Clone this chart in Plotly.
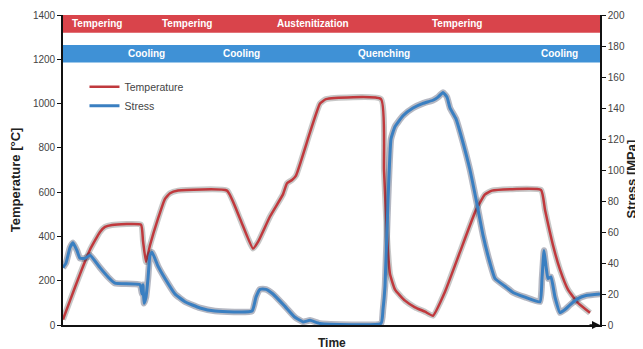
import plotly.graph_objects as go

# Time in arbitrary units (no ticks on the time axis)
temp_time = [0, 7, 17, 27, 37, 42, 49, 78, 80, 83, 87, 95, 102, 107, 115, 164, 177, 190, 195, 207, 220, 224, 229, 233, 247, 257, 263, 318, 321, 324, 327, 332, 342, 352, 362, 370, 382, 397, 413, 422, 429, 478, 482, 490, 497, 505, 515, 527]
temp_vals = [25, 110, 230, 340, 420, 443, 452, 453, 380, 285, 360, 480, 570, 595, 607, 607, 480, 345, 375, 490, 590, 640, 655, 675, 870, 1000, 1020, 1020, 700, 400, 230, 160, 110, 80, 60, 42, 150, 330, 520, 590, 607, 610, 520, 360, 250, 160, 100, 55]

stress_time = [0, 3, 7, 10, 14, 17, 22, 27, 37, 45, 52, 77, 79, 80, 81, 83, 85, 87, 89, 95, 102, 112, 122, 137, 152, 189, 193, 197, 203, 210, 222, 232, 240, 247, 257, 318, 320, 322, 325, 328, 332, 340, 350, 360, 370, 375, 380, 384, 387, 393, 399, 407, 414, 420, 427, 432, 442, 450, 462, 477, 479, 481, 483, 485, 488, 492, 497, 502, 507, 515, 523, 537]
stress_vals = [37, 40, 50, 53, 48, 43, 43, 45, 37, 31, 27, 26, 20, 26, 14, 18, 30, 45, 47, 38, 30, 20, 15, 11, 9, 9, 18, 23, 23, 20, 12, 5, 2, 3, 1, 1, 10, 25, 80, 120, 128, 135, 140, 143, 145, 147, 150, 147, 140, 133, 120, 100, 78, 58, 40, 30, 25, 21, 18, 15, 30, 48, 38, 30, 31, 18, 8, 10, 13, 17, 19, 20]

red_band_labels = ["Tempering", "Tempering", "Austenitization", "Tempering"]
red_band_pos = [34, 124, 250, 394]
blue_band_labels = ["Cooling", "Cooling", "Quenching", "Cooling"]
blue_band_pos = [83, 178, 321, 496]

RED = "#c0393d"
BLUE = "#3a7fc1"
RED_BAND = "#d9444b"
BLUE_BAND = "#3f91d6"
FONT = "Liberation Sans, Arial, sans-serif"

fig = go.Figure()

# shadow traces
fig.add_trace(go.Scatter(x=temp_time, y=temp_vals, mode="lines",
                         line=dict(color="rgba(70,70,70,0.30)", width=6, shape="spline", smoothing=0.4),
                         showlegend=False, hoverinfo="skip"))
fig.add_trace(go.Scatter(x=stress_time, y=stress_vals, mode="lines", yaxis="y2",
                         line=dict(color="rgba(40,50,80,0.35)", width=6.5, shape="spline", smoothing=0.4),
                         showlegend=False, hoverinfo="skip"))

fig.add_trace(go.Scatter(x=temp_time, y=temp_vals, mode="lines", name="Temperature",
                         line=dict(color=RED, width=2.5, shape="spline", smoothing=0.4)))
fig.add_trace(go.Scatter(x=stress_time, y=stress_vals, mode="lines", name="Stress", yaxis="y2",
                         line=dict(color=BLUE, width=3, shape="spline", smoothing=0.4)))

shapes = [
    dict(type="rect", xref="paper", yref="y", x0=0, x1=1, y0=1320, y1=1400,
         fillcolor=RED_BAND, line=dict(width=0), layer="below"),
    dict(type="rect", xref="paper", yref="y", x0=0, x1=1, y0=1185, y1=1265,
         fillcolor=BLUE_BAND, line=dict(width=0), layer="below"),
]

annotations = []
for lab, pos in zip(red_band_labels, red_band_pos):
    annotations.append(dict(x=pos, y=1360, xref="x", yref="y", text=lab, showarrow=False,
                            font=dict(color="white", size=10, family=FONT, weight="bold")))
for lab, pos in zip(blue_band_labels, blue_band_pos):
    annotations.append(dict(x=pos, y=1225, xref="x", yref="y", text=lab, showarrow=False,
                            font=dict(color="white", size=10, family=FONT, weight="bold")))

annotations += [
    dict(x=-0.087, y=0.468, xref="paper", yref="paper", text="Temperature [°C]", textangle=-90,
         xanchor="center", yanchor="middle",
         showarrow=False, font=dict(size=13, family=FONT, color="#222", weight="bold")),
    dict(x=1.058, y=0.47, xref="paper", yref="paper", text="Stress [MPa]", textangle=-90,
         xanchor="center", yanchor="middle",
         showarrow=False, font=dict(size=13, family=FONT, color="#222", weight="bold")),
    dict(x=0.5, y=-0.058, xref="paper", yref="paper", text="Time", xanchor="center", yanchor="middle",
         showarrow=False, font=dict(size=12, family=FONT, color="#222", weight="bold")),
    dict(x=1.0, y=0, xref="paper", yref="paper", ax=-12, ay=0, axref="pixel", ayref="pixel",
         text="", showarrow=True, arrowhead=2, arrowsize=1, arrowwidth=1.6, arrowcolor="#111"),
]

fig.update_layout(
    width=635, height=341,
    margin=dict(l=55, r=43, t=7, b=24, autoexpand=False),
    paper_bgcolor="white", plot_bgcolor="white",
    font=dict(family=FONT, size=10, color="#444"),
    shapes=shapes, annotations=annotations,
    xaxis=dict(range=[0, 537], showticklabels=False, ticks="", showgrid=False, zeroline=False,
               showline=True, linecolor="#111", linewidth=1.6),
    yaxis=dict(range=[0, 1400], dtick=200, ticks="outside", ticklen=4, tickcolor="#111",
               showgrid=False, zeroline=False, showline=True, linecolor="#111", linewidth=1.6,
               tickfont=dict(size=10, color="#444")),
    yaxis2=dict(range=[0, 200], dtick=20, overlaying="y", side="right", ticks="outside",
                ticklen=4, tickcolor="#111", showgrid=False, zeroline=False, showline=True,
                linecolor="#111", linewidth=1.6, tickfont=dict(size=10, color="#444")),
    legend=dict(x=0.04, y=0.815, xanchor="left", yanchor="top", bgcolor="rgba(0,0,0,0)",
                font=dict(size=10.5, color="#444"), tracegroupgap=0, itemwidth=30),
    showlegend=True,
)

fig.write_html("out.html")
